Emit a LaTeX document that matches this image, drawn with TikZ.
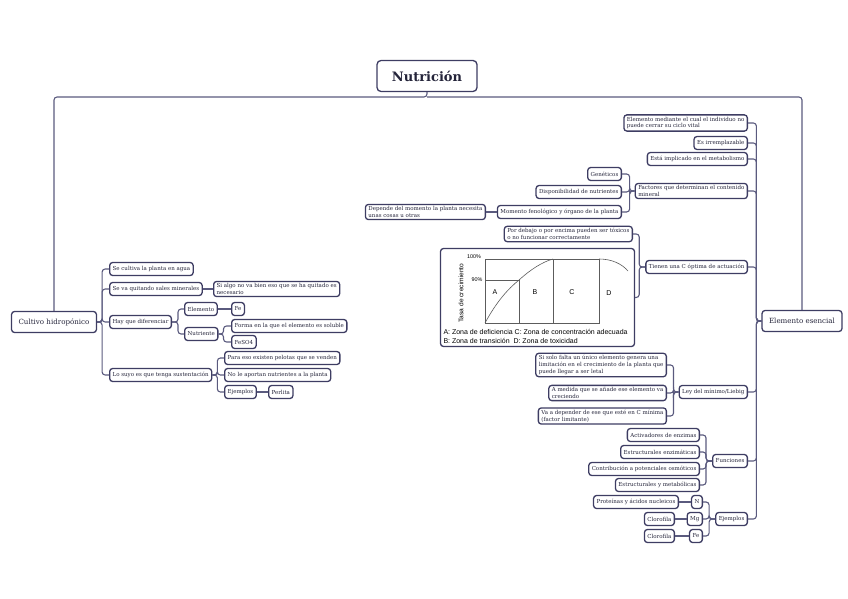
\documentclass[tikz,border=0pt]{standalone}
\usepackage{fontspec}
\setmainfont{DejaVu Serif}
\newfontfamily\chartfont{Liberation Sans}
\usetikzlibrary{positioning, calc}
\definecolor{cnavy}{HTML}{3E3D63}
\definecolor{cline}{HTML}{5A5A7E}
\definecolor{ctext}{HTML}{24243A}
\definecolor{cgraph}{HTML}{5C5C5C}
\tikzset{
  every picture/.style={line width=1pt},
  box/.style={draw=cnavy, fill=white, rounded corners=3pt, line width=1.3pt, text=ctext, align=left,
    font=\fontsize{5.5}{6.9}\selectfont, inner xsep=3pt, inner ysep=2pt, minimum height=13pt},
  link/.style={draw=cline, line width=1.1pt, rounded corners=3pt},
  chart/.style={draw=cgraph, line width=0.6pt},
}

\begin{document}
\begin{tikzpicture}[x=1pt, y=-1pt,
  lnode/.style={box, anchor=east},
  rnode/.style={box, anchor=west},
  branch/.style={box, font=\fontsize{7.1}{8.5}\selectfont, minimum height=21pt, inner xsep=7pt},
  chartlbl/.style={font=\chartfont\fontsize{7}{8}\selectfont, text=black, inner sep=0pt},
  chartsml/.style={chartlbl, font=\chartfont\fontsize{5.4}{6}\selectfont}]
  \useasboundingbox (0,0) rectangle (848,599);
  \node[box, font=\bfseries\fontsize{13}{15}\selectfont, minimum width=100pt, minimum height=31pt, rounded corners=4pt] (title) at (427,76) {Nutrición};
  \coordinate (hub) at (427,97);
  \node[branch] (cult) at (54,322) {Cultivo hidropónico};
  \node[branch] (ee) at (802,321) {Elemento esencial};
  \draw[link] (title.south) -- (hub) -| (cult.north);
  \draw[link] (hub) -| (ee.north);
  % cultivo hidroponico
  \node[rnode] (agua) at (109,269) {Se cultiva la planta en agua};
  \node[rnode] (sales) at (109,289) {Se va quitando sales minerales};
  \node[rnode] (dif) at (109,322) {Hay que diferenciar};
  \node[rnode] (sust) at (109,375) {Lo suyo es que tenga sustentación};
  \foreach \n in {agua, sales, dif, sust} \draw[link] (cult.east) -- ++(5,0) |- (\n.west);
  \node[rnode] (nec) at (213,289) {Si algo no va bien eso que se ha quitado es\\necesario};
  \draw[link] (sales.east) -- (nec.west);
  \node[rnode] (elem) at (184,309) {Elemento};
  \node[rnode] (nut) at (184,334) {Nutriente};
  \foreach \n in {elem, nut} \draw[link] (dif.east) -- ++(6,0) |- (\n.west);
  \node[rnode] (fe1) at (231,309) {Fe};
  \draw[link] (elem.east) -- (fe1.west);
  \node[rnode] (sol) at (231,326) {Forma en la que el elemento es soluble};
  \node[rnode] (feso) at (231,342) {FeSO4};
  \foreach \n in {sol, feso} \draw[link] (nut.east) -- ++(5,0) |- (\n.west);
  \node[rnode] (pel) at (224,358) {Para eso existen pelotas que se venden};
  \node[rnode] (noap) at (224,375) {No le aportan nutrientes a la planta};
  \node[rnode] (ej1) at (224,392) {Ejemplos};
  \foreach \n in {pel, noap, ej1} \draw[link] (sust.east) -- ++(5,0) |- (\n.west);
  \node[rnode] (perl) at (268,392) {Perlita};
  \draw[link] (ej1.east) -- (perl.west);
  % elemento esencial
  \node[lnode] (ciclo) at (748,123) {Elemento mediante el cual el individuo no\\puede cerrar su ciclo vital};
  \node[lnode] (irr) at (748,143) {Es irremplazable};
  \node[lnode] (meta) at (748,159) {Está implicado en el metabolismo};
  \node[lnode] (fact) at (748,191) {Factores que determinan el contenido\\mineral};
  \node[lnode] (copt) at (748,267) {Tienen una C óptima de actuación};
  \node[lnode] (ley) at (748,392) {Ley del mínimo/Liebig};
  \node[lnode] (fun) at (748,461) {Funciones};
  \node[lnode] (ej2) at (748,519) {Ejemplos};
  \foreach \n in {ciclo, irr, meta, fact, copt, ley, fun, ej2} \draw[link] (ee.west) -- ++(-5,0) |- (\n.east);
  % factores
  \node[lnode] (gen) at (622,174) {Genéticos};
  \node[lnode] (disp) at (622,192) {Disponibilidad de nutrientes};
  \node[lnode] (mom) at (622,212) {Momento fenológico y órgano de la planta};
  \foreach \n in {gen, disp, mom} \draw[link] (fact.west) -- ++(-5,0) |- (\n.east);
  \node[lnode] (dep) at (486,212) {Depende del momento la planta necesita\\unas cosas u otras};
  \draw[link] (mom.west) -- (dep.east);
  % C optima
  \node[lnode] (tox) at (633,234) {Por debajo o por encima pueden ser tóxicos\\o no funcionar correctamente};
  \node[box, minimum width=194pt, minimum height=98pt] (graph) at (537.5,297.5) {};
  \foreach \n in {tox, graph} \draw[link] (copt.west) -- ++(-6,0) |- (\n.east);
  \draw[chart] (485,259) rectangle (599,323);
  \draw[chart] (485,280) -- (519,280) -- (519,323);
  \draw[chart] (553,259) -- (553,323);
  \draw[chart] (485,323) .. controls (497,301) and (508,289) .. (519,280) .. controls (530,270) and (542,262) .. (553,259);
  \draw[chart] (599,259) .. controls (612,259) and (622,264) .. (628,271);
  \node[chartsml] (p100) at (474,257) {100\%};
  \node[chartsml] (p90) at (477,280) {90\%};
  \node[chartsml, font=\chartfont\fontsize{6.6}{7}\selectfont, rotate=90] (tasa) at (461,293) {Tasa de crecimiento};
  \node[chartlbl] (za) at (495,292) {A};
  \node[chartlbl] (zb) at (535,292) {B};
  \node[chartlbl] (zc) at (572,292) {C};
  \node[chartlbl] (zd) at (609,293) {D};
  \node[chartlbl, anchor=west] (leg1) at (443,332) {A: Zona de deficiencia C: Zona de concentración adecuada};
  \node[chartlbl, anchor=west] (leg2) at (443,341) {B: Zona de transición\ \ D: Zona de toxicidad};
  % ley del minimo
  \node[lnode] (falta) at (667,365) {Si solo falta un único elemento genera una\\limitación en el crecimiento de la planta que\\puede llegar a ser letal};
  \node[lnode] (crece) at (667,393) {A medida que se añade ese elemento va\\creciendo};
  \node[lnode] (cmin) at (667,416) {Va a depender de ese que esté en C mínima\\(factor limitante)};
  \foreach \n in {falta, crece, cmin} \draw[link] (ley.west) -- ++(-5,0) |- (\n.east);
  % funciones
  \node[lnode] (act) at (700,435) {Activadores de enzimas};
  \node[lnode] (enz) at (700,452) {Estructurales enzimáticas};
  \node[lnode] (osm) at (700,469) {Contribución a potenciales osmóticos};
  \node[lnode] (met) at (700,485) {Estructurales y metabólicas};
  \foreach \n in {act, enz, osm, met} \draw[link] (fun.west) -- ++(-6,0) |- (\n.east);
  % ejemplos
  \node[lnode] (n) at (703,502) {N};
  \node[lnode] (mg) at (703,519) {Mg};
  \node[lnode] (fe2) at (703,536) {Fe};
  \foreach \n in {n, mg, fe2} \draw[link] (ej2.west) -- ++(-6,0) |- (\n.east);
  \node[lnode] (prot) at (679,502) {Proteínas y ácidos nucleicos};
  \node[lnode] (clo1) at (675,519) {Clorofila};
  \node[lnode] (clo2) at (675,536) {Clorofila};
  \draw[link] (n.west) -- (prot.east);
  \draw[link] (mg.west) -- (clo1.east);
  \draw[link] (fe2.west) -- (clo2.east);
\end{tikzpicture}
\end{document}
